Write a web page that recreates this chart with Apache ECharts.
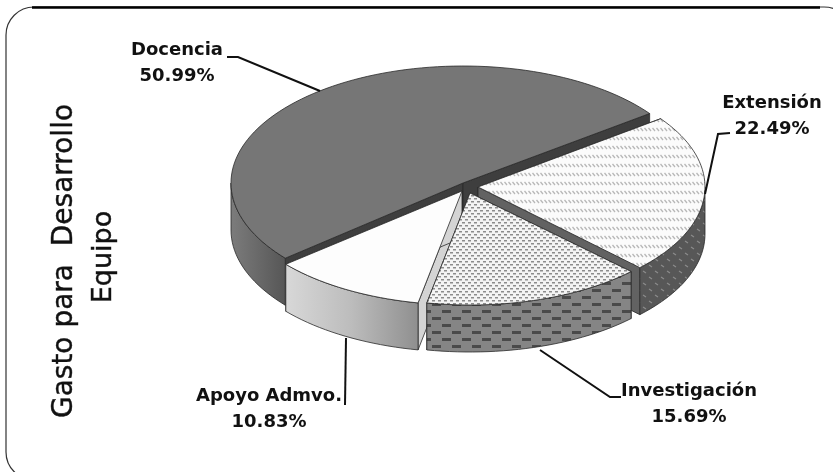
<!DOCTYPE html>
<html>
<head>
<meta charset="utf-8">
<style>
  html, body { margin: 0; padding: 0; background: #fff; }
  #main { width: 833px; height: 472px; }
</style>
<script src="https://cdn.jsdelivr.net/npm/echarts@6/dist/echarts.min.js"></script>
</head>
<body>
<div id="main"></div>
<script>
  var categories = ['Docencia', 'Extensión', 'Investigación', 'Apoyo Admvo.'];
  var values = [50.99, 22.49, 15.69, 10.83];
  var titleLines = ['Gasto para  Desarrollo', 'Equipo'];

  // drawing setup for the tilted pie
  var startAngle = 220;   // degrees, counter-clockwise from +x, slices run clockwise
  var depth = 47;
  var apex = [[463, 183], [478, 187], [470, 193], [462, 191]];
  var radii = [[232, 117], [227, 115], [226, 112], [230, 114]];
  var order = [0, 1, 3, 2];

  function tile(w, h, bg, draw) {
    var c = document.createElement('canvas');
    c.width = w;
    c.height = h;
    var ctx = c.getContext('2d');
    ctx.fillStyle = bg;
    ctx.fillRect(0, 0, w, h);
    draw(ctx);
    return { image: c, repeat: 'repeat' };
  }

  // white top with rows of slanted ticks
  var hatchTop = tile(4, 9, '#fbfbfb', function (ctx) {
    ctx.strokeStyle = '#b8b8b8';
    ctx.lineWidth = 1.3;
    ctx.beginPath();
    ctx.moveTo(0.5, 2);
    ctx.lineTo(3, 5);
    ctx.stroke();
  });
  var hatchWall = tile(12, 12, '#575757', function (ctx) {
    ctx.strokeStyle = '#8c8c8c';
    ctx.lineWidth = 1.2;
    [[1, 1], [7, 7]].forEach(function (p) {
      ctx.beginPath();
      ctx.moveTo(p[0], p[1]);
      ctx.lineTo(p[0] + 3, p[1] + 2);
      ctx.stroke();
    });
  });
  var dotTop = tile(6, 6, '#f4f4f4', function (ctx) {
    ctx.fillStyle = '#8c8c8c';
    ctx.fillRect(0, 0, 3, 1.5);
    ctx.fillRect(3, 3, 3, 1.5);
  });
  var brickWall = tile(20, 14, '#858585', function (ctx) {
    ctx.fillStyle = '#4a4a4a';
    ctx.fillRect(2, 2, 9, 3);
    ctx.fillRect(12, 9, 8, 3);
    ctx.fillRect(0, 9, 1, 3);
  });
  var apoyoWall = {
    type: 'linear', x: 0, y: 0, x2: 1, y2: 0,
    colorStops: [{ offset: 0, color: '#d8d8d8' }, { offset: 0.5, color: '#bcbcbc' }, { offset: 1, color: '#8f8f8f' }]
  };
  var docWall = {
    type: 'linear', x: 0, y: 0, x2: 1, y2: 0,
    colorStops: [{ offset: 0, color: '#7c7c7c' }, { offset: 1, color: '#565656' }]
  };

  var topFill = ['#767676', hatchTop, dotTop, '#fdfdfd'];
  var wallFill = [docWall, hatchWall, brickWall, apoyoWall];
  var faceFill = ['#3e3e3e', '#626262', '#777777', '#d4d4d4'];

  function arcPoints(i, a0, a1, dy) {
    // a0 > a1, walking clockwise
    var pts = [];
    var n = Math.max(2, Math.ceil((a0 - a1) / 2));
    for (var k = 0; k <= n; k++) {
      var a = (a0 + (a1 - a0) * k / n) * Math.PI / 180;
      pts.push([apex[i][0] + radii[i][0] * Math.cos(a), apex[i][1] - radii[i][1] * Math.sin(a) + dy]);
    }
    return pts;
  }

  function polygon(points, fill, z2) {
    return {
      type: 'polygon',
      z2: z2,
      shape: { points: points },
      style: { fill: fill, stroke: '#2a2a2a', lineWidth: 0.8 }
    };
  }

  // one angle range per slice, taken from the values
  var total = values.reduce(function (s, v) { return s + v; }, 0);
  var ranges = [];
  values.reduce(function (a, v) {
    var next = a - v / total * 360;
    ranges.push([a, next]);
    return next;
  }, startAngle);

  function renderSlice(params, api) {
    var i = api.value(0);
    var a0 = ranges[i][0], a1 = ranges[i][1];
    var z = order.indexOf(i) * 10;
    var c = apex[i];
    var children = [];

    // straight faces first, they sit behind the rim and the top
    [a0, a1].forEach(function (a) {
      var e = arcPoints(i, a, a, 0)[0];
      children.push(polygon([c, e, [e[0], e[1] + depth], [c[0], c[1] + depth]], faceFill[i], z));
    });

    // rim, only the front half of the ellipse shows
    var spans = [[Math.min(a0, 360), Math.max(a1, 180)], [Math.min(a0, 0), a1]];
    spans.forEach(function (s) {
      if (s[0] <= s[1]) return;
      var up = arcPoints(i, s[0], s[1], 0);
      var down = arcPoints(i, s[0], s[1], depth).reverse();
      children.push(polygon(up.concat(down), wallFill[i], z + 1));
    });

    children.push(polygon([c].concat(arcPoints(i, a0, a1, 0)), topFill[i], z + 2));
    return { type: 'group', children: children };
  }

  function leader(points) {
    return {
      type: 'polyline',
      shape: { points: points },
      style: { stroke: '#111', lineWidth: 2, fill: null },
      z: 5
    };
  }

  function label(i, x, y) {
    return {
      type: 'text',
      x: x,
      y: y,
      z: 5,
      style: {
        text: categories[i] + '\n' + values[i].toFixed(2) + '%',
        fill: '#111',
        font: 'bold 18px "DejaVu Sans"',
        lineHeight: 26,
        align: 'center',
        verticalAlign: 'middle'
      }
    };
  }

  function sideTitle(text, x, y, size) {
    return {
      type: 'text',
      x: x,
      y: y,
      rotation: Math.PI / 2,
      z: 5,
      style: {
        text: text,
        fill: '#111',
        stroke: '#111',
        lineWidth: 0.4,
        font: size + 'px "DejaVu Sans"',
        align: 'center',
        verticalAlign: 'middle'
      }
    };
  }

  var myChart = echarts.init(document.getElementById('main'), null, { renderer: 'canvas' });
  myChart.setOption({
    animation: false,
    backgroundColor: '#fff',
    graphic: {
      elements: [
        // the frame runs past the right and bottom of the picture
        {
          type: 'rect',
          z: 0,
          shape: { x: 6, y: 7, width: 846, height: 473, r: 28 },
          style: { fill: '#fff', stroke: '#333', lineWidth: 1.2 }
        },
        {
          type: 'line',
          z: 1,
          shape: { x1: 32, y1: 7.5, x2: 820, y2: 7.5 },
          style: { stroke: '#000', lineWidth: 2.4 }
        },
        sideTitle(titleLines[0], 65, 261, 28),
        sideTitle(titleLines[1], 104, 257, 27),
        leader([[227, 57], [238, 57], [320, 91]]),
        leader([[730, 133], [718, 134], [705, 194]]),
        leader([[540, 350], [610, 397], [621, 397]]),
        leader([[346, 338], [345, 405]]),
        label(0, 177, 63),
        label(1, 772, 116),
        label(2, 689, 404),
        label(3, 269, 409)
      ]
    },
    series: [{
      type: 'custom',
      coordinateSystem: 'none',
      silent: true,
      z: 3,
      data: categories.map(function (name, i) { return { name: name, value: [i, values[i]] }; }),
      renderItem: renderSlice
    }]
  });
</script>
</body>
</html>
